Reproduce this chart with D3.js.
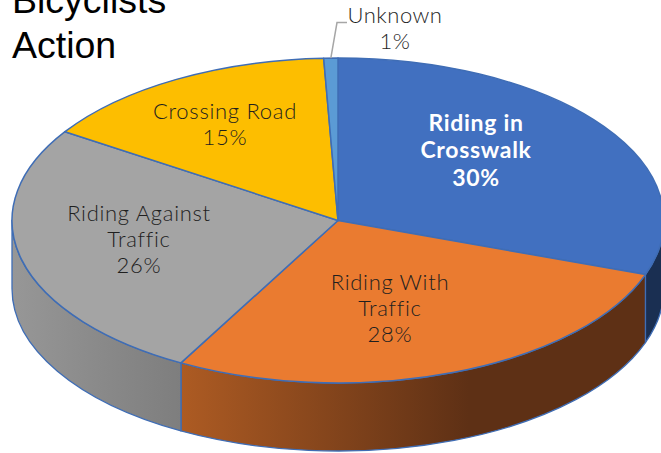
<!DOCTYPE html>
<html>
<head>
<meta charset="utf-8">
<script src="https://cdn.jsdelivr.net/npm/d3@7"></script>
<style>
html,body{margin:0;padding:0;background:#fff;overflow:hidden}
svg{display:block}
</style>
</head>
<body>
<svg id="c" width="661" height="453"></svg>
<script>
const categories = ["Riding in Crosswalk","Riding With Traffic","Riding Against Traffic","Crossing Road","Unknown"];
const values = [30.4,27.6,26.2,15.1,0.7];
const labelLines = [["Riding in","Crosswalk","30%"],["Riding With","Traffic","28%"],["Riding Against","Traffic","26%"],["Crossing Road","15%"],["Unknown","1%"]];
const titleLines = ["Bicyclists","Action"];

const topColors = ["#4170c0","#ea7b30","#a4a4a4","#fdbe00","#5b9bd5"];
const wallStops = [
  [["#1a2f52",0],["#1a2f52",1]],
  [["#ad5b23",0],["#5e3015",0.62],["#5e3015",1]],
  [["#979797",0],["#8a8a8a",0.5],["#7e7e7e",1]]
];
const labelAnchor = [[476,131],[390,290],[139,221],[225,119],[395,23]];
const CX=338, CY=220.5, RX=326, RY=162.5, DEPTH=68, LINE=26;

const svg = d3.select("#c");
const x = d3.scaleLinear().domain([-1,1]).range([CX-RX,CX+RX]);
const y = d3.scaleLinear().domain([-1,1]).range([CY+RY,CY-RY]);
const px = a => x(Math.sin(a)), py = a => y(Math.cos(a));
const arcs = d3.pie().sort(null).value(d=>d)(values);

const defs = svg.append("defs");
const edge = "#3f6db5";

function topPath(a){
  const large = a.endAngle-a.startAngle>Math.PI?1:0;
  return `M${CX},${CY}L${px(a.startAngle)},${py(a.startAngle)}A${RX},${RY} 0 ${large} 1 ${px(a.endAngle)},${py(a.endAngle)}Z`;
}
function wallPath(a0,a1){
  return `M${px(a0)},${py(a0)}A${RX},${RY} 0 0 1 ${px(a1)},${py(a1)}L${px(a1)},${py(a1)+DEPTH}A${RX},${RY} 0 0 0 ${px(a0)},${py(a0)+DEPTH}Z`;
}

// visible side walls: front half of the ellipse only
const front0 = Math.PI/2, front1 = 3*Math.PI/2;
arcs.forEach((a,i)=>{
  const a0 = Math.max(a.startAngle,front0), a1 = Math.min(a.endAngle,front1);
  if(a1<=a0) return;
  const xs=[px(a0),px(a1)];
  const g = defs.append("linearGradient").attr("id","w"+i).attr("gradientUnits","userSpaceOnUse")
    .attr("x1",d3.min(xs)).attr("x2",d3.max(xs)).attr("y1",0).attr("y2",0);
  wallStops[i].forEach(s=>g.append("stop").attr("offset",s[1]).attr("stop-color",s[0]));
  svg.append("path").attr("d",wallPath(a0,a1)).attr("fill",`url(#w${i})`)
    .attr("stroke",edge).attr("stroke-width",1.3).attr("stroke-linejoin","round");
});

// top face
svg.selectAll("path.top").data(arcs).join("path").attr("class","top")
  .attr("d",topPath).attr("fill",(d,i)=>topColors[i])
  .attr("stroke",edge).attr("stroke-width",1.5).attr("stroke-linejoin","round");

// leader for the smallest slice
const mid = (arcs[4].startAngle+arcs[4].endAngle)/2;
svg.append("path").attr("d",`M${px(mid)},${py(mid)}L337,22.5H347`)
  .attr("fill","none").attr("stroke","#a6a6a6").attr("stroke-width",1.5);

// labels
const font = "Lato, 'Open Sans', sans-serif";
const boldExtra = [0,1,3];
labelLines.forEach((lines,i)=>{
  const t = svg.append("text").attr("text-anchor","middle").attr("font-family",font)
    .attr("font-size",i==0?23:22).attr("font-weight",i==0?700:300)
    .attr("letter-spacing",i==4?0.5:0.7)
    .attr("fill",i==0?"#ffffff":"#1f1f1f");
  lines.forEach((s,k)=>t.append("tspan").attr("x",labelAnchor[i][0]).attr("y",labelAnchor[i][1]+k*LINE+(i==0?boldExtra[k]:0)).text(s));
});

// title
const title = svg.append("text").attr("font-family","'Liberation Sans', Arial, sans-serif").attr("font-size",37.5).attr("fill","#000");
titleLines.forEach((s,k)=>title.append("tspan").attr("x",12).attr("y",13+k*45).text(s));
</script>
</body>
</html>
